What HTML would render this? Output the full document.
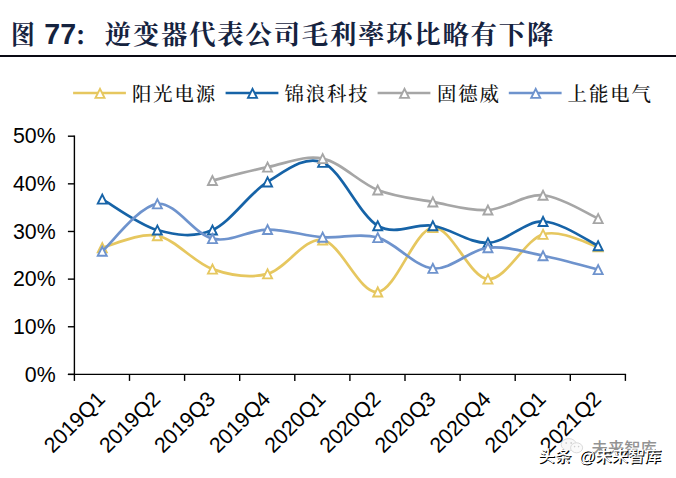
<!DOCTYPE html>
<html lang="zh-CN"><head><meta charset="utf-8"><title>图 77</title>
<style>
html,body{margin:0;padding:0;background:#fff}
body{width:676px;height:478px;position:relative;overflow:hidden;font-family:"Liberation Sans","Noto Serif CJK SC",sans-serif}
.t{position:absolute;white-space:nowrap;line-height:1}
.title{font-family:"Liberation Sans","Noto Serif CJK SC",serif;font-weight:700;font-size:28px;color:#15233f;top:20px}
.title .cn{font-family:"Noto Serif CJK SC","Liberation Serif",serif;font-weight:700}
.rule{position:absolute;left:0;top:55px;width:676px;height:2px;background:#0a0a14}
.lg{font-family:"Noto Serif CJK SC","Liberation Serif",serif;font-size:19.4px;letter-spacing:1.9px;color:#111;top:83.6px;font-weight:500}
.wm1{font-family:"Liberation Sans","Noto Sans CJK SC",sans-serif;font-size:16.3px;color:#939393;left:591.6px;top:439.6px;font-weight:500}
.wm2{font-family:"Liberation Sans","Noto Sans CJK SC",sans-serif;font-size:16.4px;color:#fff;left:538.2px;top:448.4px;font-weight:500;word-spacing:3px;text-shadow:1px 1px 0 #000,1.2px 1.2px 0.6px rgba(0,0,0,.7);transform:skewX(-3deg);transform-origin:left bottom}
</style></head><body>
<div class="t title cn" style="left:11.4px;font-size:26.4px;top:21.9px;transform:scaleX(0.9);transform-origin:left top">图</div>
<div class="t title" style="left:44.3px;font-size:28.6px;top:19.6px">77</div>
<div class="t title cn" style="left:74.0px;font-size:24.5px;top:25.1px">：</div>
<div class="t title cn" style="left:104.8px;font-size:26.4px;letter-spacing:1.75px;top:22.1px">逆变器代表公司毛利率环比略有下降</div>
<div class="rule"></div>
<svg width="676" height="478" viewBox="0 0 676 478" style="position:absolute;left:0;top:0">
<g stroke="#000" stroke-width="1.4" fill="none" shape-rendering="auto">
<line x1="74.40" y1="135.50" x2="74.40" y2="375.10"/>
<line x1="67.90" y1="374.40" x2="626.10" y2="374.40"/>
<line x1="67.90" y1="374.40" x2="74.40" y2="374.40"/>
<line x1="67.90" y1="326.76" x2="74.40" y2="326.76"/>
<line x1="67.90" y1="279.12" x2="74.40" y2="279.12"/>
<line x1="67.90" y1="231.48" x2="74.40" y2="231.48"/>
<line x1="67.90" y1="183.84" x2="74.40" y2="183.84"/>
<line x1="67.90" y1="136.20" x2="74.40" y2="136.20"/>
<line x1="74.40" y1="374.40" x2="74.40" y2="380.90"/>
<line x1="129.50" y1="374.40" x2="129.50" y2="380.90"/>
<line x1="184.60" y1="374.40" x2="184.60" y2="380.90"/>
<line x1="239.70" y1="374.40" x2="239.70" y2="380.90"/>
<line x1="294.80" y1="374.40" x2="294.80" y2="380.90"/>
<line x1="349.90" y1="374.40" x2="349.90" y2="380.90"/>
<line x1="405.00" y1="374.40" x2="405.00" y2="380.90"/>
<line x1="460.10" y1="374.40" x2="460.10" y2="380.90"/>
<line x1="515.20" y1="374.40" x2="515.20" y2="380.90"/>
<line x1="570.30" y1="374.40" x2="570.30" y2="380.90"/>
<line x1="625.40" y1="374.40" x2="625.40" y2="380.90"/>
</g>
<g font-family="'Liberation Sans', Arial, sans-serif" font-size="21.33" fill="#000">
<text x="55.7" y="381.60" text-anchor="end">0%</text>
<text x="55.7" y="333.96" text-anchor="end">10%</text>
<text x="55.7" y="286.32" text-anchor="end">20%</text>
<text x="55.7" y="238.68" text-anchor="end">30%</text>
<text x="55.7" y="191.04" text-anchor="end">40%</text>
<text x="55.7" y="143.40" text-anchor="end">50%</text>
<text transform="translate(106.45,400.40) rotate(-45)" text-anchor="end">2019Q1</text>
<text transform="translate(161.55,400.40) rotate(-45)" text-anchor="end">2019Q2</text>
<text transform="translate(216.65,400.40) rotate(-45)" text-anchor="end">2019Q3</text>
<text transform="translate(271.75,400.40) rotate(-45)" text-anchor="end">2019Q4</text>
<text transform="translate(326.85,400.40) rotate(-45)" text-anchor="end">2020Q1</text>
<text transform="translate(381.95,400.40) rotate(-45)" text-anchor="end">2020Q2</text>
<text transform="translate(437.05,400.40) rotate(-45)" text-anchor="end">2020Q3</text>
<text transform="translate(492.15,400.40) rotate(-45)" text-anchor="end">2020Q4</text>
<text transform="translate(547.25,400.40) rotate(-45)" text-anchor="end">2021Q1</text>
<text transform="translate(602.35,400.40) rotate(-45)" text-anchor="end">2021Q2</text>
</g>
<path d="M102.25,247.68 C111.43,245.69 138.98,232.19 157.35,235.77 C175.72,239.34 194.08,262.76 212.45,269.12 C230.82,275.47 249.18,278.72 267.55,273.88 C285.92,269.04 304.28,237.04 322.65,240.06 C341.02,243.07 359.38,294.05 377.75,291.98 C396.12,289.92 414.48,229.81 432.85,227.67 C451.22,225.53 469.58,278.01 487.95,279.12 C506.32,280.23 524.68,239.74 543.05,234.34 C561.42,228.94 588.97,244.66 598.15,246.72" fill="none" stroke="#E6C75F" stroke-width="2.70" stroke-linecap="round" stroke-linejoin="round"/>
<polygon points="102.25,243.18 97.75,252.18 106.75,252.18" fill="#fff" stroke="#E6C75F" stroke-width="1.90" stroke-linejoin="miter"/>
<polygon points="157.35,231.27 152.85,240.27 161.85,240.27" fill="#fff" stroke="#E6C75F" stroke-width="1.90" stroke-linejoin="miter"/>
<polygon points="212.45,264.62 207.95,273.62 216.95,273.62" fill="#fff" stroke="#E6C75F" stroke-width="1.90" stroke-linejoin="miter"/>
<polygon points="267.55,269.38 263.05,278.38 272.05,278.38" fill="#fff" stroke="#E6C75F" stroke-width="1.90" stroke-linejoin="miter"/>
<polygon points="322.65,235.56 318.15,244.56 327.15,244.56" fill="#fff" stroke="#E6C75F" stroke-width="1.90" stroke-linejoin="miter"/>
<polygon points="377.75,287.48 373.25,296.48 382.25,296.48" fill="#fff" stroke="#E6C75F" stroke-width="1.90" stroke-linejoin="miter"/>
<polygon points="432.85,223.17 428.35,232.17 437.35,232.17" fill="#fff" stroke="#E6C75F" stroke-width="1.90" stroke-linejoin="miter"/>
<polygon points="487.95,274.62 483.45,283.62 492.45,283.62" fill="#fff" stroke="#E6C75F" stroke-width="1.90" stroke-linejoin="miter"/>
<polygon points="543.05,229.84 538.55,238.84 547.55,238.84" fill="#fff" stroke="#E6C75F" stroke-width="1.90" stroke-linejoin="miter"/>
<polygon points="598.15,242.22 593.65,251.22 602.65,251.22" fill="#fff" stroke="#E6C75F" stroke-width="1.90" stroke-linejoin="miter"/>
<path d="M102.25,199.08 C111.43,204.25 138.98,224.89 157.35,230.05 C175.72,235.21 194.08,238.07 212.45,230.05 C230.82,222.03 249.18,193.21 267.55,181.93 C285.92,170.66 304.28,155.10 322.65,162.40 C341.02,169.71 359.38,215.20 377.75,225.76 C396.12,236.32 414.48,222.90 432.85,225.76 C451.22,228.62 469.58,243.63 487.95,242.91 C506.32,242.20 524.68,221.00 543.05,221.48 C561.42,221.95 588.97,241.72 598.15,245.77" fill="none" stroke="#1663A7" stroke-width="2.70" stroke-linecap="round" stroke-linejoin="round"/>
<polygon points="102.25,194.58 97.75,203.58 106.75,203.58" fill="#fff" stroke="#1663A7" stroke-width="1.90" stroke-linejoin="miter"/>
<polygon points="157.35,225.55 152.85,234.55 161.85,234.55" fill="#fff" stroke="#1663A7" stroke-width="1.90" stroke-linejoin="miter"/>
<polygon points="212.45,225.55 207.95,234.55 216.95,234.55" fill="#fff" stroke="#1663A7" stroke-width="1.90" stroke-linejoin="miter"/>
<polygon points="267.55,177.43 263.05,186.43 272.05,186.43" fill="#fff" stroke="#1663A7" stroke-width="1.90" stroke-linejoin="miter"/>
<polygon points="322.65,157.90 318.15,166.90 327.15,166.90" fill="#fff" stroke="#1663A7" stroke-width="1.90" stroke-linejoin="miter"/>
<polygon points="377.75,221.26 373.25,230.26 382.25,230.26" fill="#fff" stroke="#1663A7" stroke-width="1.90" stroke-linejoin="miter"/>
<polygon points="432.85,221.26 428.35,230.26 437.35,230.26" fill="#fff" stroke="#1663A7" stroke-width="1.90" stroke-linejoin="miter"/>
<polygon points="487.95,238.41 483.45,247.41 492.45,247.41" fill="#fff" stroke="#1663A7" stroke-width="1.90" stroke-linejoin="miter"/>
<polygon points="543.05,216.98 538.55,225.98 547.55,225.98" fill="#fff" stroke="#1663A7" stroke-width="1.90" stroke-linejoin="miter"/>
<polygon points="598.15,241.27 593.65,250.27 602.65,250.27" fill="#fff" stroke="#1663A7" stroke-width="1.90" stroke-linejoin="miter"/>
<path d="M212.45,180.51 C221.63,178.28 249.18,170.82 267.55,167.17 C285.92,163.51 304.28,154.78 322.65,158.59 C341.02,162.40 359.38,182.81 377.75,190.03 C396.12,197.26 414.48,198.61 432.85,201.94 C451.22,205.28 469.58,211.15 487.95,210.04 C506.32,208.93 524.68,193.84 543.05,195.27 C561.42,196.70 588.97,214.73 598.15,218.62" fill="none" stroke="#A6A6A6" stroke-width="2.70" stroke-linecap="round" stroke-linejoin="round"/>
<polygon points="212.45,176.01 207.95,185.01 216.95,185.01" fill="#fff" stroke="#A6A6A6" stroke-width="1.90" stroke-linejoin="miter"/>
<polygon points="267.55,162.67 263.05,171.67 272.05,171.67" fill="#fff" stroke="#A6A6A6" stroke-width="1.90" stroke-linejoin="miter"/>
<polygon points="322.65,154.09 318.15,163.09 327.15,163.09" fill="#fff" stroke="#A6A6A6" stroke-width="1.90" stroke-linejoin="miter"/>
<polygon points="377.75,185.53 373.25,194.53 382.25,194.53" fill="#fff" stroke="#A6A6A6" stroke-width="1.90" stroke-linejoin="miter"/>
<polygon points="432.85,197.44 428.35,206.44 437.35,206.44" fill="#fff" stroke="#A6A6A6" stroke-width="1.90" stroke-linejoin="miter"/>
<polygon points="487.95,205.54 483.45,214.54 492.45,214.54" fill="#fff" stroke="#A6A6A6" stroke-width="1.90" stroke-linejoin="miter"/>
<polygon points="543.05,190.77 538.55,199.77 547.55,199.77" fill="#fff" stroke="#A6A6A6" stroke-width="1.90" stroke-linejoin="miter"/>
<polygon points="598.15,214.12 593.65,223.12 602.65,223.12" fill="#fff" stroke="#A6A6A6" stroke-width="1.90" stroke-linejoin="miter"/>
<path d="M102.25,251.25 C111.43,243.35 138.98,205.95 157.35,203.85 C175.72,201.74 194.08,234.34 212.45,238.63 C230.82,242.91 249.18,229.81 267.55,229.57 C285.92,229.34 304.28,235.85 322.65,237.20 C341.02,238.55 359.38,232.47 377.75,237.67 C396.12,242.87 414.48,266.73 432.85,268.40 C451.22,270.07 469.58,249.78 487.95,247.68 C506.32,245.57 524.68,252.12 543.05,255.78 C561.42,259.43 588.97,267.29 598.15,269.59" fill="none" stroke="#6E93CD" stroke-width="2.70" stroke-linecap="round" stroke-linejoin="round"/>
<polygon points="102.25,246.75 97.75,255.75 106.75,255.75" fill="#fff" stroke="#6E93CD" stroke-width="1.90" stroke-linejoin="miter"/>
<polygon points="157.35,199.35 152.85,208.35 161.85,208.35" fill="#fff" stroke="#6E93CD" stroke-width="1.90" stroke-linejoin="miter"/>
<polygon points="212.45,234.13 207.95,243.13 216.95,243.13" fill="#fff" stroke="#6E93CD" stroke-width="1.90" stroke-linejoin="miter"/>
<polygon points="267.55,225.07 263.05,234.07 272.05,234.07" fill="#fff" stroke="#6E93CD" stroke-width="1.90" stroke-linejoin="miter"/>
<polygon points="322.65,232.70 318.15,241.70 327.15,241.70" fill="#fff" stroke="#6E93CD" stroke-width="1.90" stroke-linejoin="miter"/>
<polygon points="377.75,233.17 373.25,242.17 382.25,242.17" fill="#fff" stroke="#6E93CD" stroke-width="1.90" stroke-linejoin="miter"/>
<polygon points="432.85,263.90 428.35,272.90 437.35,272.90" fill="#fff" stroke="#6E93CD" stroke-width="1.90" stroke-linejoin="miter"/>
<polygon points="487.95,243.18 483.45,252.18 492.45,252.18" fill="#fff" stroke="#6E93CD" stroke-width="1.90" stroke-linejoin="miter"/>
<polygon points="543.05,251.28 538.55,260.28 547.55,260.28" fill="#fff" stroke="#6E93CD" stroke-width="1.90" stroke-linejoin="miter"/>
<polygon points="598.15,265.09 593.65,274.09 602.65,274.09" fill="#fff" stroke="#6E93CD" stroke-width="1.90" stroke-linejoin="miter"/>
<line x1="73.10" y1="93.1" x2="125.90" y2="93.1" stroke="#E6C75F" stroke-width="2.5"/>
<polygon points="100.00,88.90 95.50,97.90 104.50,97.90" fill="#fff" stroke="#E6C75F" stroke-width="1.90" stroke-linejoin="miter"/>
<line x1="225.60" y1="93.1" x2="278.40" y2="93.1" stroke="#1663A7" stroke-width="2.5"/>
<polygon points="252.50,88.90 248.00,97.90 257.00,97.90" fill="#fff" stroke="#1663A7" stroke-width="1.90" stroke-linejoin="miter"/>
<line x1="377.60" y1="93.1" x2="430.40" y2="93.1" stroke="#A6A6A6" stroke-width="2.5"/>
<polygon points="404.50,88.90 400.00,97.90 409.00,97.90" fill="#fff" stroke="#A6A6A6" stroke-width="1.90" stroke-linejoin="miter"/>
<line x1="508.80" y1="93.1" x2="561.60" y2="93.1" stroke="#6E93CD" stroke-width="2.5"/>
<polygon points="535.70,88.90 531.20,97.90 540.20,97.90" fill="#fff" stroke="#6E93CD" stroke-width="1.90" stroke-linejoin="miter"/>
</svg>
<div class="t lg" style="left:132px">阳光电源</div>
<div class="t lg" style="left:284.4px">锦浪科技</div>
<div class="t lg" style="left:437px">固德威</div>
<div class="t lg" style="left:567.6px">上能电气</div>
<svg class="t" style="left:560px;top:438px" width="24" height="16" viewBox="0 0 24 16"><ellipse cx="8.8" cy="6.6" rx="7.6" ry="6" fill="#f8f8f8" stroke="#dadada" stroke-width="1"/><ellipse cx="16.6" cy="9.8" rx="6" ry="5" fill="#fafafa" stroke="#dadada" stroke-width="1"/><circle cx="6.2" cy="5" r="0.9" fill="#cfcfcf"/><circle cx="11.2" cy="5" r="0.9" fill="#cfcfcf"/><circle cx="14.6" cy="8.6" r="0.8" fill="#cfcfcf"/><circle cx="18.6" cy="8.6" r="0.8" fill="#cfcfcf"/></svg>
<div class="t wm1">未来智库</div>
<div class="t wm2">头条 @未来智库</div>
</body></html>
